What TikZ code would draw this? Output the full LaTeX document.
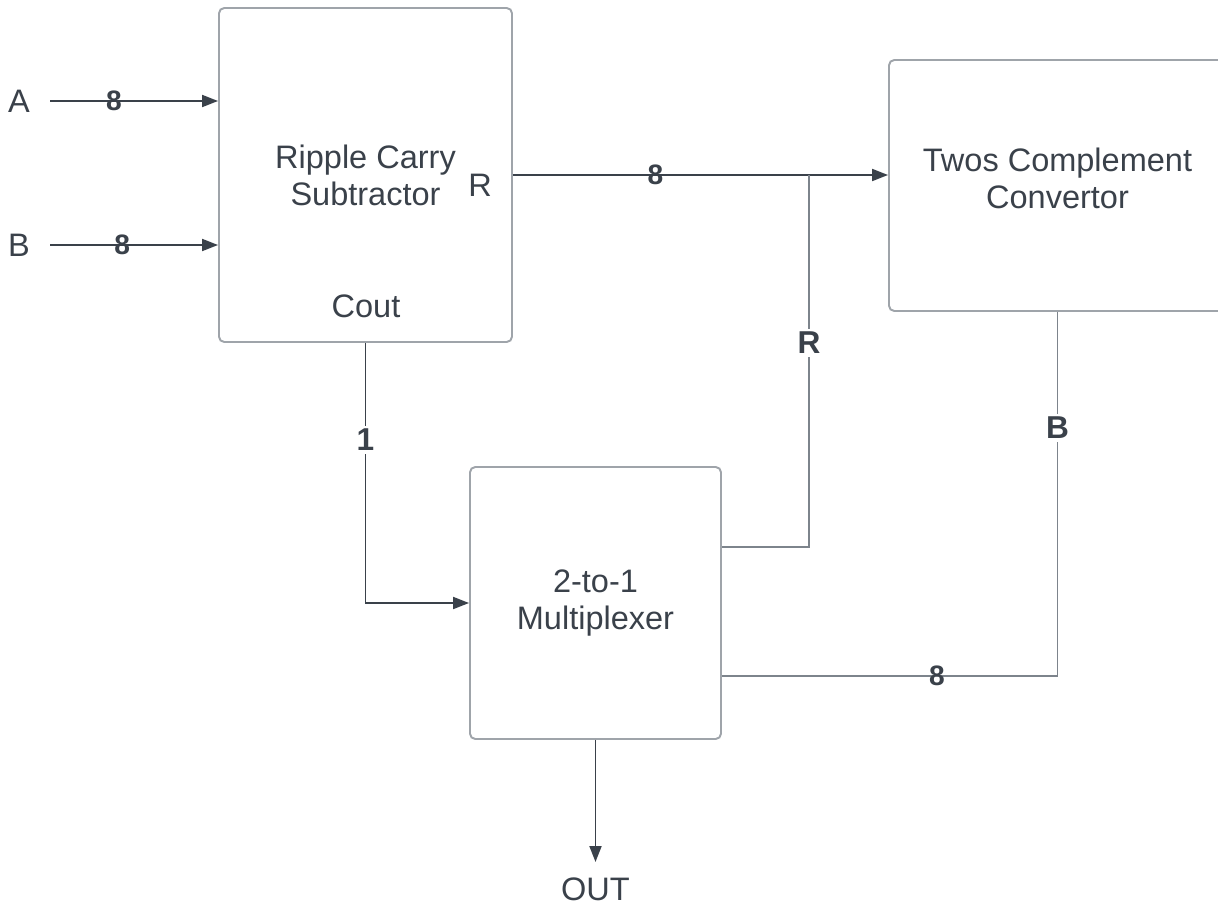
\documentclass[tikz,border=0pt]{standalone}
\usepackage{fontspec}
\setmainfont{Liberation Sans}
\usepackage{xcolor}
\usepackage{tikz}
\usetikzlibrary{arrows.meta, positioning, calc}

\definecolor{ink}{HTML}{3A414A}
\definecolor{edge}{HTML}{9FA4AA}
\definecolor{wiregray}{HTML}{7D848C}

\begin{document}
\begin{tikzpicture}[
    box/.style={rectangle, rounded corners=3pt, draw=edge, line width=1.1pt, text=ink, align=center, inner sep=0pt, font=\fontsize{18.5pt}{21pt}\selectfont},
    lbl/.style={text=ink, align=center, font=\fontsize{18.5pt}{21pt}\selectfont},
    bits/.style={text=ink, font=\bfseries\fontsize{16pt}{18pt}\selectfont, inner sep=1pt},
    bus/.style={text=ink, font=\bfseries\fontsize{18pt}{20pt}\selectfont, fill=white, inner sep=2pt},
    arrow/.style={-{Triangle[length=3.2mm, width=2.4mm]}, line width=1.1pt, ink},
    wire/.style={line width=1.1pt, wiregray}
]
\useasboundingbox (0,0) rectangle (24.36,-18.1);
\clip (0,0) rectangle (24.36,-18.1);

% blocks
\node[box, minimum width=5.86cm, minimum height=6.68cm] (rcs) at (7.31,-3.5) {Ripple Carry\\Subtractor};
\node[box, minimum width=6.74cm, minimum height=5.02cm] (tcc) at (21.15,-3.71) {};
\node[lbl] (tcctext) at (21.15,-3.56) {Twos Complement\\Convertor};
\node[box, minimum width=5.02cm, minimum height=5.44cm] (mux) at (11.91,-12.06) {2-to-1\\Multiplexer};

% port names
\node[lbl] (rport) at (9.6,-3.7) {R};
\node[lbl] (cport) at (7.32,-6.12) {Cout};

% inputs
\node[lbl] (ina) at (0.38,-2.02) {A};
\node[lbl] (inb) at (0.38,-4.9) {B};
\coordinate (astart) at (1.0,-2.02);
\coordinate (bstart) at (1.0,-4.9);
\draw[arrow] (astart) -- (astart -| rcs.west) node[bits, pos=0.38] (abits) {8};
\draw[arrow] (bstart) -- (bstart -| rcs.west) node[bits, pos=0.43] (bbits) {8};

% result to converter
\draw[arrow] (rcs.east) -- (rcs.east -| tcc.west) node[bits, pos=0.38] (rbits) {8};
\coordinate (rjoin) at (16.18,-3.5);
\coordinate (muxr) at ([yshift=1.12cm]mux.east);
\draw[wire] (rjoin) |- (muxr);
\node[bus] (rbus) at (16.18,-6.86) {R};

% carry out to select
\draw[arrow] (rcs.south) |- (mux.west);
\node[bus] (cbits) at (7.31,-8.8) {1};

% converted value back to mux
\coordinate (muxb) at ([yshift=-1.46cm]mux.east);
\draw[wire] (tcc.south) |- (muxb);
\node[bus] (bbus) at (21.15,-8.56) {B};
\node[bits] (bbits2) at (18.74,-13.52) {8};

% output
\coordinate (outp) at (11.91,-17.24);
\draw[arrow] (mux.south) -- (outp);
\node[lbl] (outl) at (11.91,-17.78) {OUT};

\end{tikzpicture}
\end{document}
